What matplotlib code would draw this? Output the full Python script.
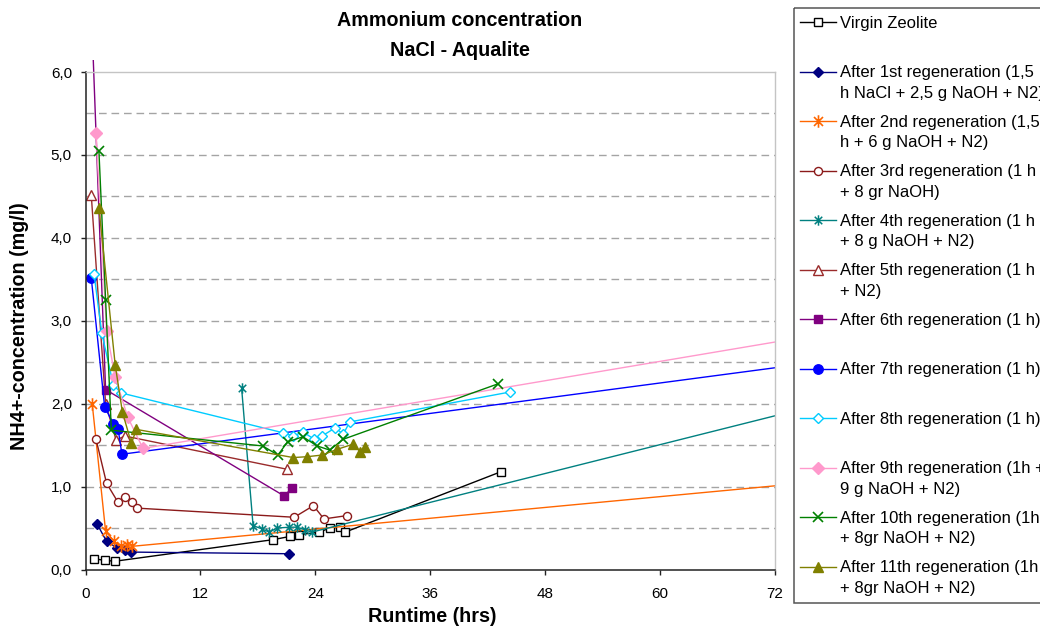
import numpy as np
import matplotlib
matplotlib.use("Agg")
import matplotlib.pyplot as plt
from matplotlib import font_manager
from matplotlib.path import Path
from matplotlib.patches import Rectangle
from matplotlib.lines import Line2D
from matplotlib.ticker import FuncFormatter
from matplotlib.transforms import Bbox, TransformedBbox

# ---- data: runtime (hrs) and NH4+ concentration (mg/l) per run ----
virgin_x = [0.9, 2.0, 3.1, 19.6, 21.4, 22.3, 24.4, 25.5, 26.6, 27.1, 43.4]
virgin_y = [0.13, 0.11, 0.10, 0.36, 0.40, 0.42, 0.45, 0.50, 0.51, 0.45, 1.18]

reg1_x = [1.2, 2.2, 3.3, 4.1, 4.8, 21.3]
reg1_y = [0.55, 0.34, 0.26, 0.23, 0.21, 0.19]

reg2_x = [0.7, 2.1, 3.0, 3.7, 4.3, 4.9, 96.0]
reg2_y = [2.00, 0.46, 0.34, 0.28, 0.29, 0.28, 1.27]

reg3_x = [1.1, 2.2, 3.4, 4.1, 4.9, 5.4, 21.8, 23.8, 24.9, 27.3]
reg3_y = [1.57, 1.04, 0.81, 0.88, 0.82, 0.74, 0.63, 0.77, 0.61, 0.65]

reg4_x = [16.3, 17.5, 18.4, 19.2, 20.0, 21.3, 22.1, 22.9, 23.6, 96.0]
reg4_y = [2.19, 0.53, 0.49, 0.45, 0.50, 0.51, 0.51, 0.48, 0.45, 2.55]

reg5_x = [0.6, 2.1, 3.2, 4.1, 21.0]
reg5_y = [4.52, 2.00, 1.56, 1.61, 1.21]

reg6_x = [0.6, 2.1, 20.7, 21.6]
reg6_y = [6.80, 2.17, 0.89, 0.98]

reg7_x = [0.6, 2.0, 2.9, 3.4, 3.8, 96.0]
reg7_y = [3.52, 1.96, 1.76, 1.70, 1.39, 2.80]

reg8_x = [0.9, 1.7, 2.9, 3.7, 20.6, 21.7, 22.7, 23.9, 24.7, 26.1, 26.9, 27.6, 44.3]
reg8_y = [3.56, 2.85, 2.23, 2.13, 1.65, 1.61, 1.66, 1.57, 1.61, 1.71, 1.63, 1.78, 2.14]

reg9_x = [1.1, 2.2, 3.1, 4.4, 6.0, 96.0]
reg9_y = [5.27, 2.88, 2.32, 1.84, 1.46, 3.21]

reg10_x = [1.4, 2.1, 2.7, 18.5, 20.1, 21.1, 22.7, 24.2, 25.5, 26.9, 43.1]
reg10_y = [5.05, 3.25, 1.68, 1.49, 1.38, 1.54, 1.60, 1.49, 1.44, 1.57, 2.24]

reg11_x = [1.4, 3.1, 3.85, 4.8, 5.3, 21.7, 23.1, 24.7, 26.3, 27.9, 28.7, 29.2]
reg11_y = [4.36, 2.47, 1.90, 1.52, 1.69, 1.35, 1.36, 1.38, 1.45, 1.51, 1.42, 1.48]

labels = [
    "Virgin Zeolite",
    "After 1st regeneration (1,5\nh NaCl + 2,5 g NaOH + N2)",
    "After 2nd regeneration (1,5\nh + 6 g NaOH + N2)",
    "After 3rd regeneration (1 h\n+ 8 gr NaOH)",
    "After 4th regeneration (1 h\n+ 8 g NaOH + N2)",
    "After 5th regeneration (1 h\n+ N2)",
    "After 6th regeneration (1 h)",
    "After 7th regeneration (1 h)",
    "After 8th regeneration (1 h)",
    "After 9th regeneration (1h +\n9 g NaOH + N2)",
    "After 10th regeneration (1h\n+ 8gr NaOH + N2)",
    "After 11th regeneration (1h\n+ 8gr NaOH + N2)",
]

x_ticks = [0, 12, 24, 36, 48, 60, 72]
y_ticks = [0, 1, 2, 3, 4, 5, 6]

# ---- fonts ----
installed = {f.name for f in font_manager.fontManager.ttflist}
if "Liberation Sans Narrow" in installed:
    head_font = ["Liberation Sans Narrow", "Liberation Sans", "DejaVu Sans"]
    head_size, label_size, tick_size = 17.0, 17.0, 12.0
else:
    head_font = ["Liberation Sans", "DejaVu Sans"]
    head_size, label_size, tick_size = 14.2, 14.2, 11.0
body_font = ["Liberation Sans", "DejaVu Sans"]

# Excel-style star marker: vertical bar plus an X
star = Path(
    [(0, -1), (0, 1), (-0.72, -0.72), (0.72, 0.72), (-0.72, 0.72), (0.72, -0.72)],
    [Path.MOVETO, Path.LINETO, Path.MOVETO, Path.LINETO, Path.MOVETO, Path.LINETO],
)

series = [
    (virgin_x, virgin_y, dict(color="#000000", marker="s", mfc="white", ms=5.5)),
    (reg1_x, reg1_y, dict(color="#000080", marker="D", mfc="#000080", ms=5.0)),
    (reg2_x, reg2_y, dict(color="#FF6600", marker=star, mfc="none", ms=9, mew=1.2)),
    (reg3_x, reg3_y, dict(color="#8B1A1A", marker="o", mfc="white", ms=5.8)),
    (reg4_x, reg4_y, dict(color="#008080", marker=star, mfc="none", ms=7.5, mew=1.1)),
    (reg5_x, reg5_y, dict(color="#9A2B2B", marker="^", mfc="white", ms=6.5)),
    (reg6_x, reg6_y, dict(color="#800080", marker="s", mfc="#800080", ms=5.8)),
    (reg7_x, reg7_y, dict(color="#0000FF", marker="o", mfc="#0000FF", ms=6.8)),
    (reg8_x, reg8_y, dict(color="#00CCFF", marker="D", mfc="white", ms=5.2)),
    (reg9_x, reg9_y, dict(color="#FF99CC", marker="D", mfc="#FF99CC", ms=5.8)),
    (reg10_x, reg10_y, dict(color="#008000", marker="x", mfc="#008000", ms=6.8, mew=1.2)),
    (reg11_x, reg11_y, dict(color="#808000", marker="^", mfc="#808000", ms=7.5)),
]

W, H = 1040, 629
fig = plt.figure(figsize=(W / 100, H / 100), dpi=100)
fig.patch.set_facecolor("white")

ax_l, ax_r, ax_t, ax_b = 85.5, 775, 72, 569.5
ax = fig.add_axes([ax_l / W, 1 - ax_b / H, (ax_r - ax_l) / W, (ax_b - ax_t) / H])
ax.set_xlim(0, 72)
ax.set_ylim(0, 6)

# dashed horizontal gridlines every 0.5
for g in np.arange(0.5, 6.0, 0.5):
    ax.axhline(g, color="#a4a4a4", lw=1.0, ls=(0, (5.5, 3.5)), zorder=0.5)

# allow lines to run a little above the top of the plot area
clip = TransformedBbox(Bbox([[0, 0], [1, 1 + 12 / (ax_b - ax_t)]]), ax.transAxes)
for xs, ys, st in series:
    (ln,) = ax.plot(xs, ys, lw=1.0, mec=st["color"], **st)
    ln.set_clip_box(clip)

ax.set_xticks(x_ticks)
ax.set_yticks(y_ticks)
ax.yaxis.set_major_formatter(FuncFormatter(lambda v, p: f"{v:.1f}".replace(".", ",")))
ax.tick_params(axis="both", direction="out", length=3.8, width=1.0, colors="#222222",
               labelsize=tick_size, labelcolor="black")
ax.tick_params(axis="x", pad=9)
ax.tick_params(axis="y", pad=6)
for lab in ax.get_xticklabels() + ax.get_yticklabels():
    lab.set_family(head_font)

for side in ("left", "bottom"):
    ax.spines[side].set_color("#222222")
    ax.spines[side].set_linewidth(1.1)
for side in ("top", "right"):
    ax.spines[side].set_color("#c4c4c4")
    ax.spines[side].set_linewidth(1.0)

# titles and axis labels
fig.text(460 / W, 1 - 20 / H, "Ammonium concentration", ha="center", va="center",
         fontsize=head_size, fontweight="bold", family=head_font)
fig.text(460 / W, 1 - 50 / H, "NaCl - Aqualite", ha="center", va="center",
         fontsize=head_size, fontweight="bold", family=head_font)
fig.text(432 / W, 1 - 616 / H, "Runtime (hrs)", ha="center", va="center",
         fontsize=label_size, fontweight="bold", family=head_font)
fig.text(20 / W, 1 - 326 / H, "NH4+-concentration (mg/l)", ha="center", va="center",
         rotation=90, fontsize=label_size, fontweight="bold", family=head_font)

# legend panel, drawn in figure pixel space
lg = fig.add_axes([0, 0, 1, 1], facecolor="none")
lg.set_xlim(0, W)
lg.set_ylim(H, 0)
lg.axis("off")
lg.add_patch(Rectangle((794, 8), 320, 595, fill=False, ec="#555555", lw=1.1))
row0, row_step, line_step = 22, 49.5, 20.5
for i, ((xs, ys, st), text) in enumerate(zip(series, labels)):
    yc = row0 + i * row_step
    lg.add_line(Line2D([800, 836], [yc, yc], color=st["color"], lw=1.0))
    lg.add_line(Line2D([818], [yc], lw=0, mec=st["color"], **st))
    for k, part in enumerate(text.split("\n")):
        lg.text(840, yc + 5.8 + k * line_step, part, ha="left", va="baseline",
                fontsize=12, family=body_font, color="black")

fig.savefig("out.png", dpi=100, facecolor="white")
